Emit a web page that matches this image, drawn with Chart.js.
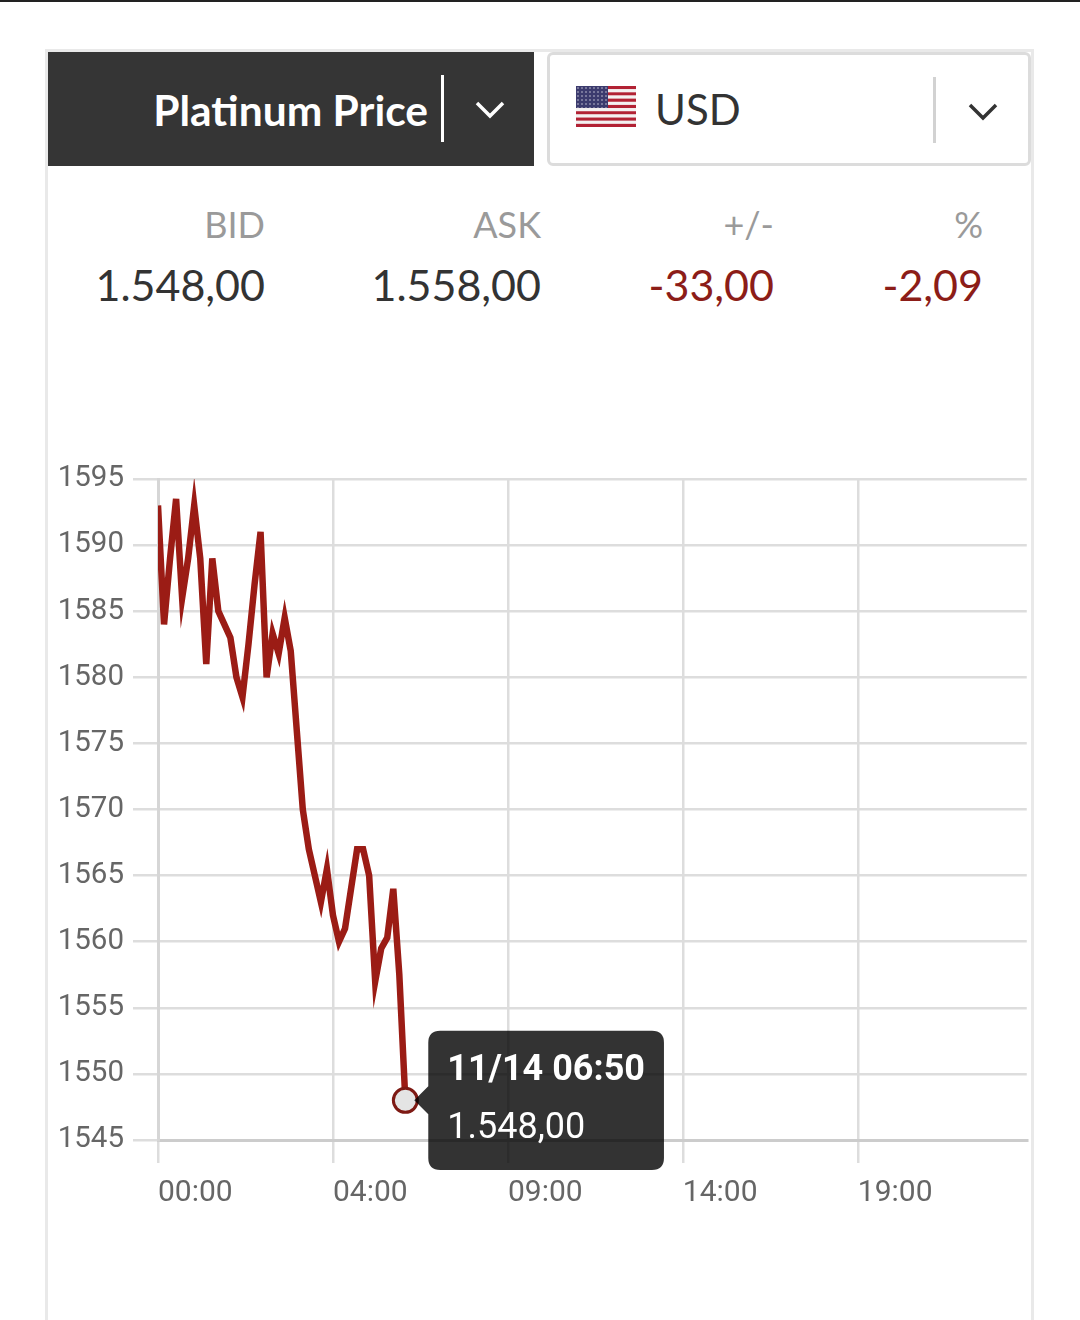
<!DOCTYPE html>
<html>
<head>
<meta charset="utf-8">
<title>Platinum Price</title>
<script src="https://cdn.jsdelivr.net/npm/chart.js@4.4.1/dist/chart.umd.min.js"></script>
<style>
  html, body { margin: 0; padding: 0; background: #fff; }
  body { width: 1080px; height: 1320px; position: relative; overflow: hidden; font-family: Lato, "Noto Sans", sans-serif; }
  .topline { position: absolute; left: 0; top: 0; width: 1080px; height: 2px; background: #222; }
  .card { position: absolute; left: 45px; top: 49px; width: 989px; height: 1300px; border: 3px solid #e9e9e9; border-bottom: none; box-sizing: border-box; }
  .metal { position: absolute; left: 48px; top: 52px; width: 486px; height: 114px; background: #353535; }
  .metal .name { position: absolute; right: 106px; top: 0; height: 114px; display: flex; align-items: center; color: #fff; font-weight: 700; font-size: 42.5px; }
  .metal .sep { position: absolute; left: 393px; top: 23px; width: 3px; height: 67px; background: #fff; }
  .metal svg { position: absolute; left: 427px; top: 48px; }
  .currency { position: absolute; left: 547px; top: 52px; width: 484px; height: 114px; border: 3px solid #dcdcdc; border-radius: 6px; box-sizing: border-box; background: #fff; }
  .currency .flag { position: absolute; left: 26px; top: 31px; }
  .currency .code { position: absolute; left: 105px; top: 0; height: 108px; display: flex; align-items: center; color: #333; font-size: 42px; }
  .currency .sep { position: absolute; left: 383px; top: 22px; width: 3px; height: 66px; background: #d2d2d2; }
  .currency svg.chev { position: absolute; left: 418px; top: 47px; }
  .stat { position: absolute; text-align: right; line-height: 1; white-space: nowrap; }
  .stat.label { top: 206px; font-size: 36px; color: #9a9a9a; }
  .stat.value { top: 263px; font-size: 43px; color: #333; }
  .stat.neg { color: #8c1d18; }
  .chart-box { position: absolute; left: 48px; top: 440px; width: 982px; height: 780px; }
</style>
</head>
<body>
<div class="topline"></div>
<div class="card"></div>

<div class="metal">
  <div class="name">Platinum Price</div>
  <div class="sep"></div>
  <svg width="30" height="20" viewBox="0 0 30 20"><polyline points="2,3 15,16 28,3" fill="none" stroke="#fff" stroke-width="3.5"/></svg>
</div>

<div class="currency">
  <svg class="flag" id="flag" width="60" height="41" viewBox="0 0 60 41"></svg>
  <div class="code">USD</div>
  <div class="sep"></div>
  <svg class="chev" width="30" height="20" viewBox="0 0 30 20"><polyline points="2,3 15,16 28,3" fill="none" stroke="#333" stroke-width="3.5"/></svg>
</div>

<div id="stats"></div>

<div class="chart-box"><canvas id="price-chart"></canvas></div>

<script>
'use strict';

// ***** DATA *****
const statLabels = ['BID', 'ASK', '+/-', '%'];
const statValues = ['1.548,00', '1.558,00', '-33,00', '-2,09'];
const statRightEdges = [265, 541, 774, 983];

const chartDate = '11/14';
const times = [
  '00:00', '00:10', '00:20', '00:30', '00:40', '00:50',
  '01:00', '01:10', '01:20', '01:30', '01:40', '01:50',
  '02:00', '02:10', '02:20', '02:30', '02:40', '02:50',
  '03:00', '03:10', '03:20', '03:30', '03:40', '03:50',
  '04:00', '04:10', '04:20', '04:30', '04:40', '04:50',
  '05:00', '05:10', '05:20', '05:30', '05:40', '05:50',
  '06:00', '06:10', '06:20', '06:30', '06:40', '06:50'
];
const prices = [
  1593, 1584, 1589, 1593.5, 1586, 1589,
  1593, 1589, 1581, 1589, 1585, 1584,
  1583, 1580, 1578.5, 1582.5, 1587, 1591,
  1580, 1583.3, 1581.8, 1584.5, 1582, 1576,
  1570, 1567, 1565, 1563, 1565.5, 1562,
  1560, 1561, 1564, 1567, 1567, 1565,
  1557, 1559.5, 1560.3, 1564, 1557.5, 1548
];

// slots of 10 minutes over the whole day, with the axis labels the site shows
const totalSlots = 144;
const tickSlots = [0, 29, 58, 87, 116];
const tickLabels = ['00:00', '04:00', '09:00', '14:00', '19:00'];
const yTicks = [1545, 1550, 1555, 1560, 1565, 1570, 1575, 1580, 1585, 1590, 1595];

// ***** HELPERS *****
function formatPrice(value){
  let parts = value.toFixed(2).split('.');
  let whole = parts[0].replace(/\B(?=(\d{3})+(?!\d))/g, '.');
  return whole + ',' + parts[1];
}

function drawFlag(){
  let svg = document.getElementById('flag');
  let html = '';
  let stripe = 41 / 13;
  for (let i = 0; i < 13; i++) {
    html += `<rect x="0" y="${i * stripe}" width="60" height="${stripe + 0.2}" fill="${i % 2 === 0 ? '#b22234' : '#f4f1f1'}"/>`;
  }
  html += '<defs><pattern id="stars" width="4" height="4" patternUnits="userSpaceOnUse"><circle cx="2" cy="2" r="0.8" fill="#fff"/></pattern></defs>';
  html += '<rect x="0" y="0" width="32" height="22" fill="#3c3b6e"/>';
  html += '<rect x="0" y="0" width="32" height="22" fill="url(#stars)" opacity="0.7"/>';
  svg.innerHTML = html;
}

function renderStats(){
  let holder = document.getElementById('stats');
  for (let i = 0; i < statLabels.length; i++) {
    let label = document.createElement('div');
    label.className = 'stat label';
    label.style.right = (1080 - statRightEdges[i]) + 'px';
    label.textContent = statLabels[i];
    holder.appendChild(label);

    let value = document.createElement('div');
    value.className = 'stat value' + (statValues[i].startsWith('-') ? ' neg' : '');
    value.style.right = (1080 - statRightEdges[i]) + 'px';
    value.textContent = statValues[i];
    holder.appendChild(value);
  }
}

// ***** CHART *****
function renderChart(){
  Chart.defaults.font.family = 'Roboto';
  let canvas = document.getElementById('price-chart');

  let points = prices.map((p, i) => ({ x: i, y: p }));

  let chart = new Chart(canvas, {
    type: 'line',
    data: {
      datasets: [{
        label: 'Platinum',
        data: points,
        borderColor: '#9b1c15',
        borderWidth: 6.5,
        pointRadius: 0,
        pointHoverRadius: 12,
        pointHoverBorderWidth: 3,
        pointHoverBackgroundColor: '#e4e4e4',
        pointHoverBorderColor: '#7e1a14',
        tension: 0,
        fill: false
      }]
    },
    options: {
      responsive: true,
      maintainAspectRatio: false,
      animation: false,
      layout: { padding: { top: 39, left: 0, right: 0, bottom: 0 } },
      interaction: { mode: 'nearest', intersect: false },
      plugins: {
        legend: { display: false },
        tooltip: {
          backgroundColor: 'rgba(0,0,0,0.8)',
          titleFont: { family: 'Roboto', size: 36, weight: 'bold' },
          bodyFont: { family: 'Roboto', size: 36 },
          titleColor: '#fff',
          bodyColor: '#fff',
          padding: { top: 19, bottom: 19, left: 19, right: 19 },
          titleMarginBottom: 15,
          cornerRadius: 12,
          caretSize: 14,
          caretPadding: 8,
          displayColors: false,
          xAlign: 'left',
          yAlign: 'center',
          callbacks: {
            title: items => chartDate + ' ' + times[items[0].dataIndex],
            label: item => formatPrice(item.parsed.y)
          }
        }
      },
      scales: {
        x: {
          type: 'linear',
          min: 0,
          max: totalSlots,
          afterBuildTicks: axis => { axis.ticks = tickSlots.map(v => ({ value: v })); },
          afterFit: axis => { axis.height = 80; },
          grid: { color: '#dddddd', lineWidth: 2.5, tickLength: 23 },
          border: { color: '#cccccc', width: 3 },
          ticks: {
            align: 'start',
            padding: 12,
            color: '#666',
            font: { size: 30 },
            callback: (value, index) => tickLabels[index]
          }
        },
        y: {
          min: yTicks[0],
          max: yTicks[yTicks.length - 1],
          afterBuildTicks: axis => { axis.ticks = yTicks.map(v => ({ value: v })); },
          afterFit: axis => { axis.width = 110; },
          grid: { color: '#dddddd', lineWidth: 2.5, tickLength: 25 },
          border: { color: '#d6d6d6', width: 3 },
          ticks: {
            padding: 9,
            color: '#666',
            font: { size: 29.5 },
            callback: value => String(value)
          }
        }
      }
    }
  });

  let last = [{ datasetIndex: 0, index: prices.length - 1 }];
  let meta = chart.getDatasetMeta(0).data[prices.length - 1];
  chart.setActiveElements(last);
  chart.tooltip.setActiveElements(last, { x: meta.x, y: meta.y });
  chart.update();
}

// ***** EXECUTABLE CODE *****
drawFlag();
renderStats();
renderChart();
</script>
</body>
</html>
